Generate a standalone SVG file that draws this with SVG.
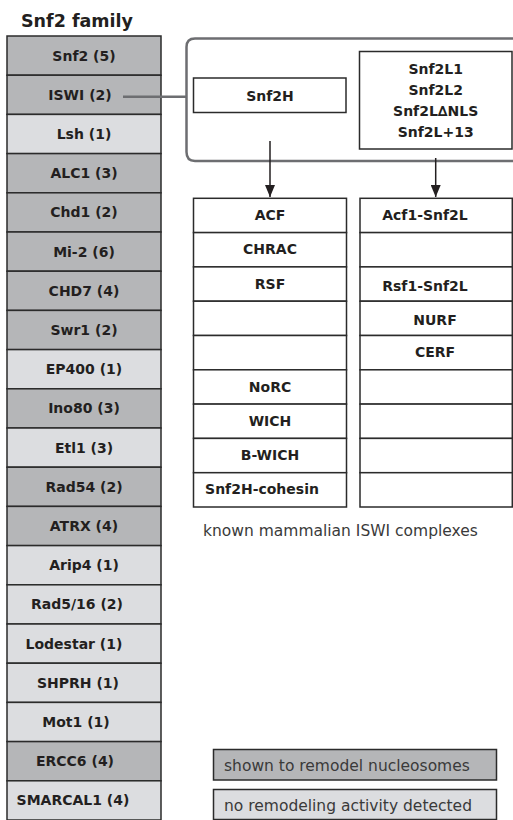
<svg xmlns="http://www.w3.org/2000/svg" width="513" height="820" viewBox="0 0 513 820">
<style>
.t{font-family:"DejaVu Sans","Liberation Sans",sans-serif;fill:#231f20;text-anchor:middle}
.b{font-weight:bold;font-size:14px}
.d{fill:#b5b6b8;stroke:#2b2b2b;stroke-width:1.5}
.l{fill:#dcdde0;stroke:#2b2b2b;stroke-width:1.5}
.w{fill:#fff;stroke:#2b2b2b;stroke-width:1.5}
.g{fill:none;stroke:#6d6e71;stroke-width:2.5}
.a{stroke:#231f20;stroke-width:1.5;fill:none}
.r{font-family:"DejaVu Sans","Liberation Sans",sans-serif;fill:#3a3a3a;font-size:15.5px}
</style>
<defs>
<marker id="ah" viewBox="0 0 12 10" refX="12" refY="5" markerWidth="12" markerHeight="10" markerUnits="userSpaceOnUse" orient="auto">
<path d="M0,0 L12,5 L0,10 z" fill="#231f20"/>
</marker>
</defs>
<text x="21" y="27" class="t" style="text-anchor:start;font-weight:bold;font-size:17.5px">Snf2 family</text>
<g id="family">
<g id="n-snf2"><rect x="7" y="36" width="154" height="39.2" class="d"/><text x="84" y="60.5" class="t b">Snf2 (5)</text></g>
<g id="n-iswi"><rect x="7" y="75.2" width="154" height="39.2" class="d"/><text x="80" y="99.7" class="t b">ISWI (2)</text></g>
<g id="n-lsh"><rect x="7" y="114.4" width="154" height="39.2" class="l"/><text x="84" y="138.9" class="t b">Lsh (1)</text></g>
<g id="n-alc1"><rect x="7" y="153.6" width="154" height="39.2" class="d"/><text x="84" y="178.1" class="t b">ALC1 (3)</text></g>
<g id="n-chd1"><rect x="7" y="192.8" width="154" height="39.2" class="d"/><text x="84" y="217.3" class="t b">Chd1 (2)</text></g>
<g id="n-mi2"><rect x="7" y="232" width="154" height="39.2" class="d"/><text x="84" y="256.5" class="t b">Mi-2 (6)</text></g>
<g id="n-chd7"><rect x="7" y="271.2" width="154" height="39.2" class="d"/><text x="84" y="295.7" class="t b">CHD7 (4)</text></g>
<g id="n-swr1"><rect x="7" y="310.4" width="154" height="39.2" class="d"/><text x="84" y="334.9" class="t b">Swr1 (2)</text></g>
<g id="n-ep400"><rect x="7" y="349.6" width="154" height="39.2" class="l"/><text x="84" y="374.1" class="t b">EP400 (1)</text></g>
<g id="n-ino80"><rect x="7" y="388.8" width="154" height="39.2" class="d"/><text x="84" y="413.3" class="t b">Ino80 (3)</text></g>
<g id="n-etl1"><rect x="7" y="428" width="154" height="39.2" class="l"/><text x="84" y="452.5" class="t b">Etl1 (3)</text></g>
<g id="n-rad54"><rect x="7" y="467.2" width="154" height="39.2" class="d"/><text x="84" y="491.7" class="t b">Rad54 (2)</text></g>
<g id="n-atrx"><rect x="7" y="506.4" width="154" height="39.2" class="d"/><text x="84" y="530.9" class="t b">ATRX (4)</text></g>
<g id="n-arip4"><rect x="7" y="545.6" width="154" height="39.2" class="l"/><text x="84" y="570.1" class="t b">Arip4 (1)</text></g>
<g id="n-rad516"><rect x="7" y="584.8" width="154" height="39.2" class="l"/><text x="77" y="609.3" class="t b">Rad5/16 (2)</text></g>
<g id="n-lodestar"><rect x="7" y="624" width="154" height="39.2" class="l"/><text x="74" y="648.5" class="t b">Lodestar (1)</text></g>
<g id="n-shprh"><rect x="7" y="663.2" width="154" height="39.2" class="l"/><text x="78" y="687.7" class="t b">SHPRH (1)</text></g>
<g id="n-mot1"><rect x="7" y="702.4" width="154" height="39.2" class="l"/><text x="76" y="726.9" class="t b">Mot1 (1)</text></g>
<g id="n-ercc6"><rect x="7" y="741.6" width="154" height="39.2" class="d"/><text x="75" y="766.1" class="t b">ERCC6 (4)</text></g>
<g id="n-smarcal1"><rect x="7" y="780.8" width="154" height="39.2" class="l"/><text x="73" y="805.3" class="t b">SMARCAL1 (4)</text></g>
</g>
<g id="connectors">
<line x1="123" y1="96.7" x2="186" y2="96.7" class="g"/>
<path d="M520,38.5 H195 Q186.5,38.5 186.5,47 V152 Q186.5,161 195,161 H520" class="g"/>
<line x1="270" y1="141" x2="270" y2="197" class="a" marker-end="url(#ah)"/>
<line x1="435.7" y1="158" x2="435.7" y2="197" class="a" marker-end="url(#ah)"/>
</g>
<g id="n-snf2h"><rect x="193.5" y="78" width="152.5" height="34.5" class="w"/><text x="270" y="100.5" class="t b">Snf2H</text></g>
<g id="n-snf2l"><rect x="359.5" y="51.5" width="152.5" height="97.5" class="w"/>
<text x="435.7" y="74" class="t b">Snf2L1</text>
<text x="435.7" y="94.5" class="t b">Snf2L2</text>
<text x="435.7" y="116" class="t b">Snf2L∆NLS</text>
<text x="435.7" y="136.5" class="t b">Snf2L+13</text></g>
<g id="snf2h-complexes">
<rect x="193.5" y="198.3" width="153" height="34.3" class="w"/><text x="270" y="220" class="t b">ACF</text>
<rect x="193.5" y="232.6" width="153" height="34.3" class="w"/><text x="270" y="254.3" class="t b">CHRAC</text>
<rect x="193.5" y="266.9" width="153" height="34.3" class="w"/><text x="270" y="288.6" class="t b">RSF</text>
<rect x="193.5" y="301.2" width="153" height="34.3" class="w"/>
<rect x="193.5" y="335.5" width="153" height="34.3" class="w"/>
<rect x="193.5" y="369.8" width="153" height="34.3" class="w"/><text x="270" y="391.5" class="t b">NoRC</text>
<rect x="193.5" y="404.1" width="153" height="34.3" class="w"/><text x="270" y="425.8" class="t b">WICH</text>
<rect x="193.5" y="438.4" width="153" height="34.3" class="w"/><text x="270" y="460.1" class="t b">B-WICH</text>
<rect x="193.5" y="472.7" width="153" height="34.3" class="w"/><text x="262" y="494.4" class="t b">Snf2H-cohesin</text>
</g>
<g id="snf2l-complexes">
<rect x="360" y="198.3" width="152.3" height="34.3" class="w"/><text x="425" y="220" class="t b">Acf1-Snf2L</text>
<rect x="360" y="232.6" width="152.3" height="34.3" class="w"/>
<rect x="360" y="266.9" width="152.3" height="34.3" class="w"/><text x="425" y="291" class="t b">Rsf1-Snf2L</text>
<rect x="360" y="301.2" width="152.3" height="34.3" class="w"/><text x="435" y="325" class="t b">NURF</text>
<rect x="360" y="335.5" width="152.3" height="34.3" class="w"/><text x="435" y="357" class="t b">CERF</text>
<rect x="360" y="369.8" width="152.3" height="34.3" class="w"/>
<rect x="360" y="404.1" width="152.3" height="34.3" class="w"/>
<rect x="360" y="438.4" width="152.3" height="34.3" class="w"/>
<rect x="360" y="472.7" width="152.3" height="34.3" class="w"/>
</g>
<text x="203" y="536" class="r">known mammalian ISWI complexes</text>
<g id="legend">
<g id="legend-remodel"><rect x="213.5" y="749.5" width="283" height="30.5" class="d"/><text x="224" y="771" class="r">shown to remodel nucleosomes</text></g>
<g id="legend-none"><rect x="213.5" y="789.5" width="283" height="30" class="l"/><text x="224" y="811" class="r">no remodeling activity detected</text></g>
</g>
</svg>
